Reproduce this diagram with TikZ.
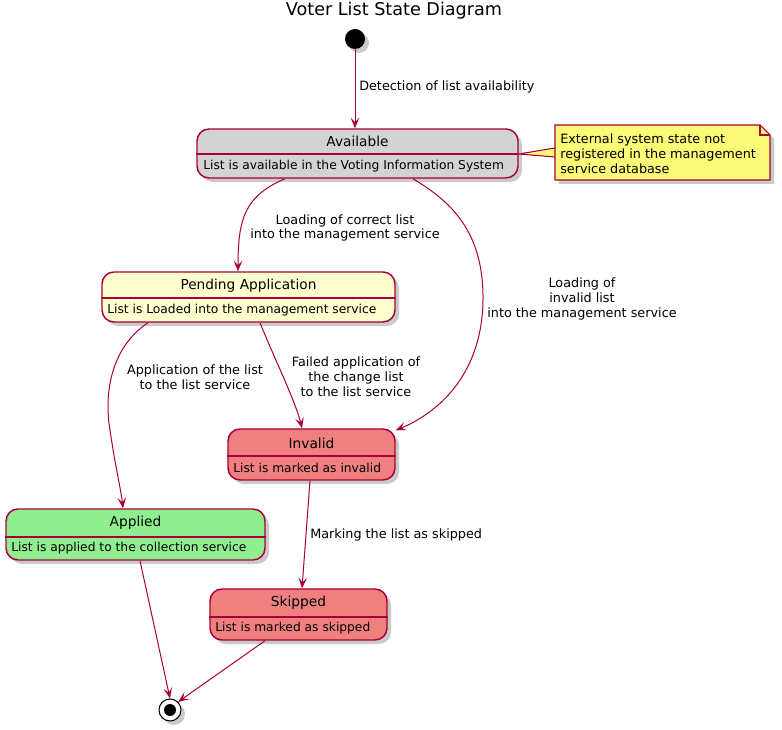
\documentclass[tikz,border=0pt]{standalone}
\usepackage{fontspec}
\setmainfont{DejaVu Sans}
\usetikzlibrary{shadows,arrows.meta,calc}
\definecolor{bord}{HTML}{A80036}
\definecolor{notefill}{HTML}{FBFB77}
\definecolor{pendfill}{HTML}{FEFECE}
\definecolor{availfill}{HTML}{D3D3D3}
\definecolor{redfill}{HTML}{F08080}
\definecolor{greenfill}{HTML}{90EE90}
\def\px{0.75pt}
\tikzset{
  shad/.style={drop shadow={shadow xshift=3pt, shadow yshift=-3pt, opacity=0.35, fill=black!60}},
  statebox/.style={draw=bord, line width=1.1pt, rounded corners=9pt, inner sep=0pt, shad},
  divider/.style={draw=bord, line width=1.1pt},
  nametext/.style={font=\fontsize{10.3pt}{12pt}\selectfont, inner sep=0pt},
  bodytext/.style={font=\fontsize{9.2pt}{11pt}\selectfont, inner sep=0pt, anchor=west},
  lbl/.style={font=\fontsize{9.6pt}{11.2pt}\selectfont, inner sep=0pt, align=center},
  arr/.style={draw=bord, line width=0.75pt, -{Stealth[length=8pt, width=6.5pt, inset=3.5pt]}},
}
\begin{document}
\begin{tikzpicture}[x=0.75pt, y=-0.75pt]
\useasboundingbox (0,0) rectangle (782,730);

% title
\node[font=\fontsize{13.2pt}{15pt}\selectfont, inner sep=0pt] (title) at (394,11) {Voter List State Diagram};

% start / end
\node[circle, fill=black, minimum size=20*\px, inner sep=0pt, shad] (start) at (355,39) {};
\node[circle, draw=black, fill=white, line width=0.8pt, minimum size=22*\px, inner sep=0pt, shad] (end) at (170,710) {};
\node[circle, fill=black, minimum size=12*\px, inner sep=0pt] (endin) at (end.center) {};

% Available
\node[statebox, fill=availfill, minimum width=321*\px, minimum height=49*\px] (avail) at (357.5,153.5) {};
\draw[divider] (avail.west |- 0,154) -- (avail.east |- 0,154);
\node[nametext] (availname) at (357.5,141) {Available};
\node[bodytext] (availbody) at (203,166) {List is available in the Voting Information System};

% Note
\coordinate (nA) at (555,148);
\coordinate (nB) at (555,157);
\fill[notefill] (avail.east |- 0,154) -- (nA) -- (nB) -- cycle;
\draw[bord, line width=0.8pt] (nA) -- (avail.east |- 0,154) -- (nB);
\path[draw=bord, fill=notefill, line width=0.8pt, shad] (555,125) -- (760,125) -- (770,135) -- (770,180) -- (555,180) -- cycle;
\draw[bord, line width=0.8pt] (760,125) -- (760,135) -- (770,135);
\node[font=\fontsize{9.6pt}{11.25pt}\selectfont, align=left, anchor=west, inner sep=0pt] (note) at (560,154) {External system state not\\registered in the management\\service database};

% Pending
\node[statebox, fill=pendfill, minimum width=293*\px, minimum height=50*\px] (pend) at (248.5,297) {};
\draw[divider] (pend.west |- 0,298) -- (pend.east |- 0,298);
\node[nametext] (pendname) at (248.5,285.5) {Pending Application};
\node[bodytext] (pendbody) at (107,310) {List is Loaded into the management service};

% Invalid
\node[statebox, fill=redfill, minimum width=167*\px, minimum height=51*\px] (inval) at (311.5,454.5) {};
\draw[divider] (inval.west |- 0,456) -- (inval.east |- 0,456);
\node[nametext] (invalname) at (311.5,443) {Invalid};
\node[bodytext] (invalbody) at (233,467.5) {List is marked as invalid};

% Applied
\node[statebox, fill=greenfill, minimum width=259*\px, minimum height=51*\px] (appl) at (135.5,534.5) {};
\draw[divider] (appl.west |- 0,537) -- (appl.east |- 0,537);
\node[nametext] (applname) at (135.5,523) {Applied};
\node[bodytext] (applbody) at (11,548) {List is applied to the collection service};

% Skipped
\node[statebox, fill=redfill, minimum width=177*\px, minimum height=51*\px] (skip) at (298.5,614.5) {};
\draw[divider] (skip.west |- 0,617) -- (skip.east |- 0,617);
\node[nametext] (skipname) at (298.5,603) {Skipped};
\node[bodytext] (skipbody) at (215,628) {List is marked as skipped};

% connectors
\draw[arr] (start.south) -- (start.south |- avail.north);
\node[lbl, anchor=west] (l1) at (359,87) {Detection of list availability};

\draw[arr] ($(avail.south)+(-72.5,0)$) .. controls (245,196) and (238,218) .. ($(pend.north)+(-10.5,0)$);
\node[lbl] (l2) at (345,228) {Loading of correct list\\into the management service};

\draw[arr] ($(avail.south)+(55.5,0)$) .. controls (448,200) and (482,228) .. (483,295) .. controls (484,372) and (440,412) .. ($(inval.north east)+(0,2)$);
\node[lbl] (l3) at (582,299) {Loading of\\invalid list\\into the management service};

\draw[arr] ($(pend.south)+(11.5,0)$) .. controls (275,360) and (295,400) .. ($(inval.north)+(-9.5,0)$);
\node[lbl] (l4) at (356,376.5) {Failed application of\\the change list\\to the list service};

\draw[arr] ($(pend.south)+(-100.5,0)$) .. controls (110,348) and (104,395) .. (110,430) .. controls (115,465) and (121,490) .. ($(appl.north)+(-12.5,0)$);
\node[lbl] (l5) at (195,377) {Application of the list\\to the list service};

\draw[arr] ($(inval.south)+(-1.5,0)$) -- ($(skip.north)+(3.5,0)$);
\node[lbl, anchor=west] (l6) at (310,535) {Marking the list as skipped};

\draw[arr] ($(appl.south)+(4.5,0)$) -- (end.north);
\draw[arr] ($(skip.south)+(-33.5,0)$) -- (end.north east);
\end{tikzpicture}
\end{document}
